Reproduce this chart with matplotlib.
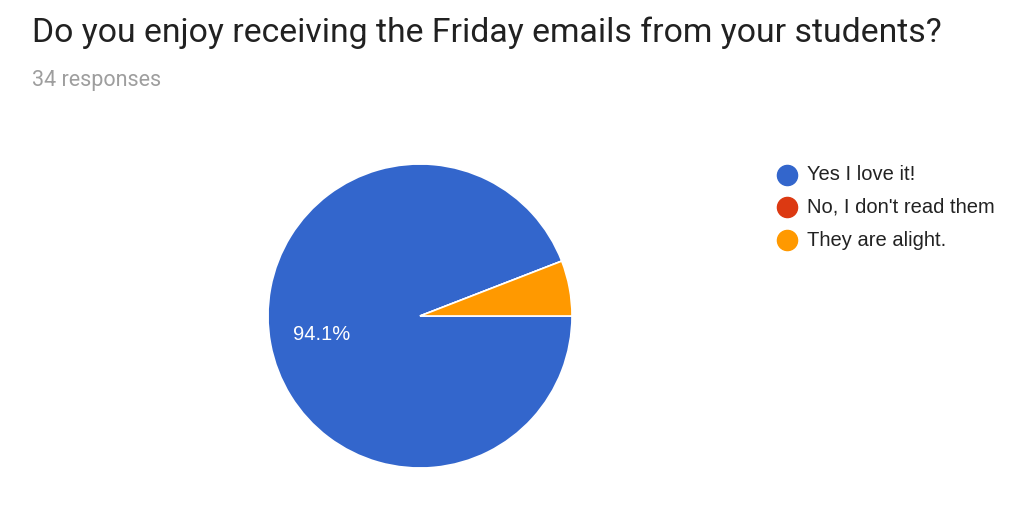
import matplotlib.pyplot as plt
from matplotlib.lines import Line2D

labels = ['Yes I love it!', "No, I don't read them", 'They are alight.']
counts = [32, 0, 2]
colors = ['#3366cc', '#dc3912', '#ff9900']
title = 'Do you enjoy receiving the Friday emails from your students?'
subtitle = '34 responses'

W, H = 1024, 508
fig = plt.figure(figsize=(W / 100, H / 100), dpi=100)
fig.patch.set_facecolor('white')

# pie: centre (420, 316), radius 152 px
cx, cy, r = 420, 316, 152
ax = fig.add_axes([(cx - r) / W, 1 - (cy + r) / H, 2 * r / W, 2 * r / H])


def pct(p):
    return f'{p:.1f}%' if p > 10 else ''


wedges, texts, autotexts = ax.pie(
    counts, colors=colors, startangle=0, counterclock=False,
    autopct=pct, pctdistance=0.66,
    wedgeprops=dict(edgecolor='white', linewidth=1.2),
    textprops=dict(color='white', fontsize=14.5, family='Liberation Sans'))
ax.set_xlim(-1, 1)
ax.set_ylim(-1, 1)
ax.set_aspect('equal')

fig.text(32 / W, 1 - 33 / H, title, fontsize=24.3, family='Roboto',
         color='#212121', va='center', ha='left')
fig.text(32 / W, 1 - 81 / H, subtitle, fontsize=15.5, family='Roboto',
         color='#9e9e9e', va='center', ha='left')

# legend drawn by hand
for i, (lab, c) in enumerate(zip(labels, colors)):
    y = 1 - (175 + i * 32.5) / H
    fig.add_artist(Line2D([787 / W], [y], marker='o', linestyle='none',
                          markersize=14.5, markerfacecolor=c,
                          markeredgecolor=c, transform=fig.transFigure))
    fig.text(807 / W, y, lab, fontsize=14.5, family='Liberation Sans',
             color='#222222', va='center', ha='left')

fig.savefig('out.png', dpi=100, facecolor='white')
